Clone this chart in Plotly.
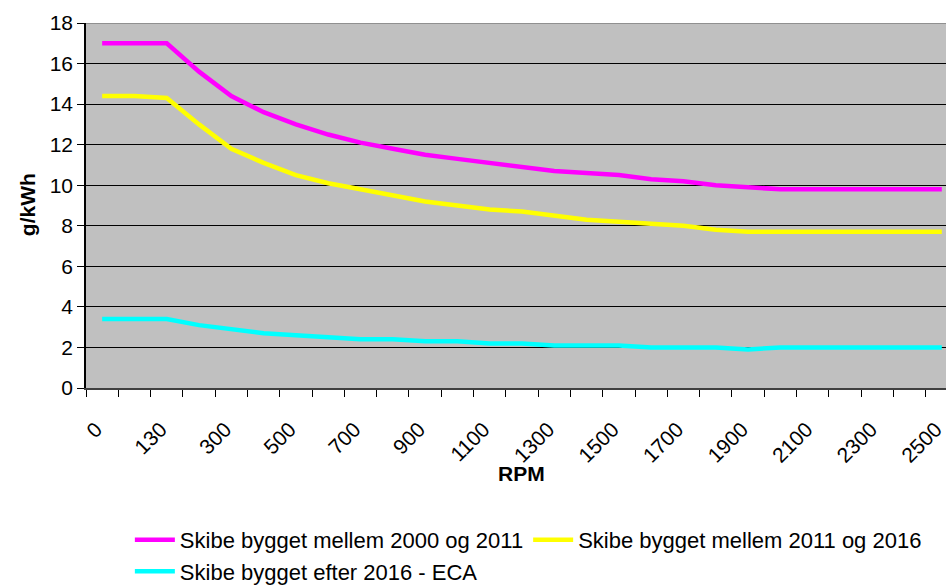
import plotly.graph_objects as go

rpm = ["0", "100", "130", "200", "300", "400", "500", "600", "700", "800", "900",
       "1000", "1100", "1200", "1300", "1400", "1500", "1600", "1700", "1800",
       "1900", "2000", "2100", "2200", "2300", "2400", "2500"]

tier1 = [17.0, 17.0, 17.0, 15.6, 14.4, 13.6, 13.0, 12.5, 12.1, 11.8, 11.5,
         11.3, 11.1, 10.9, 10.7, 10.6, 10.5, 10.3, 10.2, 10.0, 9.9,
         9.8, 9.8, 9.8, 9.8, 9.8, 9.8]
tier2 = [14.4, 14.4, 14.3, 13.0, 11.8, 11.1, 10.5, 10.1, 9.8, 9.5, 9.2,
         9.0, 8.8, 8.7, 8.5, 8.3, 8.2, 8.1, 8.0, 7.8, 7.7,
         7.7, 7.7, 7.7, 7.7, 7.7, 7.7]
tier3 = [3.4, 3.4, 3.4, 3.1, 2.9, 2.7, 2.6, 2.5, 2.4, 2.4, 2.3,
         2.3, 2.2, 2.2, 2.1, 2.1, 2.1, 2.0, 2.0, 2.0, 1.9,
         2.0, 2.0, 2.0, 2.0, 2.0, 2.0]

names = ["Skibe bygget mellem 2000 og 2011",
         "Skibe bygget mellem 2011 og 2016",
         "Skibe bygget efter 2016 - ECA"]
colors = ["#FF00FF", "#FFFF00", "#00FFFF"]
legend_ids = ["legend", "legend", "legend2"]
y_ticks = [0, 2, 4, 6, 8, 10, 12, 14, 16, 18]
x_title = "RPM"
y_title = "g/kWh"

FONT = "Liberation Sans, Arial, sans-serif"

x = list(range(len(rpm)))

fig = go.Figure()
for name, vals, col, lg in zip(names, [tier1, tier2, tier3], colors, legend_ids):
    fig.add_trace(go.Scatter(x=x, y=vals, name=name, mode="lines", legend=lg,
                             line=dict(color=col, width=4.5)))

legend_common = dict(orientation="h", xanchor="left", yanchor="top",
                     font=dict(size=22, family=FONT), itemwidth=40,
                     bgcolor="rgba(0,0,0,0)")

# figure is slightly taller than the 586px window so the bottom legend
# never forces plotly to shrink the plot area; the extra strip is off-screen
fig.update_layout(
    width=946, height=600,
    margin=dict(l=86, r=0, t=23, b=212),
    paper_bgcolor="white",
    plot_bgcolor="#C0C0C0",
    font=dict(family=FONT, size=21, color="black"),
    showlegend=True,
    legend=dict(x=0.051, y=-0.359, **legend_common),
    legend2=dict(x=0.051, y=-0.445, **legend_common),
)

fig.update_xaxes(
    range=[-0.5, 26.13],
    automargin=False,
    tickmode="array",
    tickvals=x[::2],
    ticktext=rpm[::2],
    tickangle=-45,
    ticks="outside", ticklen=19, tickcolor="rgba(0,0,0,0)",
    ticklabeloverflow="allow",
    ticklabelshift=-6,
    showgrid=False,
    zeroline=False,
    showline=True, linecolor="#404040", linewidth=1.5,
    tickfont=dict(size=21, family=FONT),
    minor=dict(tickmode="array", tickvals=[i - 0.5 for i in x],
               ticks="outside", ticklen=7, tickcolor="black", tickwidth=1,
               showgrid=False),
)

fig.update_yaxes(
    range=[0, 18],
    automargin=False,
    tickmode="array",
    tickvals=y_ticks,
    ticks="outside", ticklen=7, tickcolor="black",
    showgrid=True, gridcolor="black", gridwidth=1,
    zeroline=False,
    showline=True, linecolor="black", linewidth=1.5,
    tickfont=dict(size=21, family=FONT),
)

fig.add_annotation(text="<b>" + x_title + "</b>", xref="paper", yref="paper",
                   x=0.506, y=-0.233, xanchor="center", yanchor="middle",
                   showarrow=False, font=dict(size=21, family=FONT))
fig.add_annotation(text="<b>" + y_title + "</b>", xref="paper", yref="paper",
                   x=-0.0686, y=0.501, xanchor="center", yanchor="middle",
                   textangle=-90, showarrow=False, font=dict(size=21, family=FONT))

fig.add_shape(type="line", xref="paper", yref="y", x0=0, x1=1, y0=18, y1=18,
              line=dict(color="#808080", width=1.5))

post = ("document.documentElement.style.margin='0';"
        "document.documentElement.style.overflow='hidden';"
        "document.body.style.margin='0';"
        "document.body.style.overflow='hidden';"
        "var gd=document.getElementById('{plot_id}');"
        "gd.style.position='fixed';gd.style.left='0px';gd.style.top='0px';")

fig.write_html("out.html", config={"displayModeBar": False}, post_script=post)
